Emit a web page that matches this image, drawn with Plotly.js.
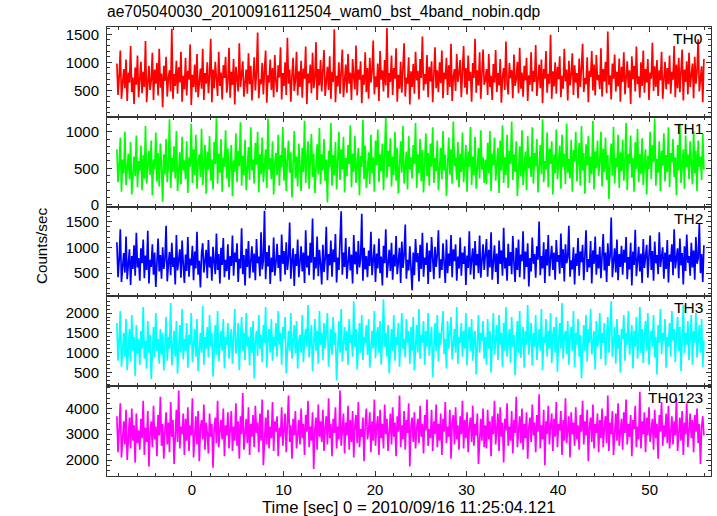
<!DOCTYPE html>
<html><head><meta charset="utf-8">
<script src="https://cdn.plot.ly/plotly-3.0.1.min.js"></script>
<style>html,body{margin:0;padding:0;background:#fff}</style>
</head><body><div id="chart" style="width:717px;height:516px"></div>
<script>
// Time axis: bins start at t0 with width dt (seconds)
const t0 = -8.2;
const dt = 0.125;
const panelNames = ["TH0", "TH1", "TH2", "TH3", "TH0123"];
const chartTitle = "ae705040030_20100916112504_wam0_bst_4band_nobin.qdp";
const xTitle = "Time [sec] 0 = 2010/09/16 11:25:04.121";
const yTitle = "Counts/sec";

const th0 = [980,420,760,1210,350,690,880,540,1050,310,820,640,1290,470,730,260,910,600,1120,380,
700,1010,450,830,560,1380,290,760,940,510,680,1170,330,870,620,990,410,1240,550,800,
200,940,670,1100,390,720,860,480,1600,350,790,580,1030,440,910,640,1190,300,760,520,
1080,410,850,690,1320,240,780,560,960,470,1150,380,700,890,530,1240,330,810,620,1000,
450,760,1420,290,870,540,1010,680,400,1190,580,820,340,950,720,1100,460,650,1260,370,
830,600,1060,250,920,710,480,1340,560,780,1020,390,690,870,440,1160,610,940,320,750,
1090,500,820,1530,360,700,610,990,430,860,1210,280,770,640,1050,510,900,380,1130,660,
470,950,730,1270,340,810,580,1000,420,1440,620,870,300,760,1080,490,680,1190,410,840,
560,1030,370,890,710,1280,260,800,630,960,450,1170,540,720,1360,330,880,590,1040,480,
780,1220,400,690,920,510,1110,350,830,650,1590,290,760,570,1000,440,880,1230,380,700,
960,460,1150,620,820,330,1060,740,520,1300,410,870,690,1020,270,780,600,1180,470,900,
350,1080,640,830,1390,430,750,560,980,310,1200,690,860,480,1040,590,1610,370,810,650,
1120,420,900,710,1250,300,780,530,1010,460,870,1340,390,730,620,1090,250,840,560,970,
440,1190,680,850,340,1060,720,1460,500,790,610,1130,380,920,660,1020,290,770,1270,540,
860,470,1000,630,1210,360,820,700,1080,420,950,560,1330,310,740,880,490,1150,650,810,
1040,380,760,1290,550,900,430,1120,670,830,300,990,720,1420,460,860,590,1180,350,780,
1230,600,
690,880,420,1150,560,760,330,970,640,1220,470,810,590,1060,280,740,900,510,1370,620,
430,990,720,860,360,1140,580,700,1010,450,1260,530,820,390,940,680,1080,310,770,600,
1180,480,850,650,1310,400,730,960,540,1050,270,880,710,1200,460,790,620,1490,350,840,
570,1000,440,920,700,1110,380,760,530,1240,660,870,320,1030,590,780,1160,420,950,640,
810,360,1070,560,900,1330,470,720,610,1090,290,850,740,1200,500,960,410,1130,680,780,
520,1250,390,880,660,1010,450,1550,600,770,340,980,710,1140,480,830,570,1070,300,920,
650,1180,430,790,1020,550,860,260,1110,700,940,480,1280,610,750,370,1000,580,1210,460,
880,640,1060,330,820,710,1350,490,930,560,1040,400,860,680,1190,350,770,1010,520,900,
610,1120,440,830,690,1290,380,960,540,1080,470,790,1230,320,870,650,1020,430,1170,560,
740,980,360,1100,620,850,1410,480,700,930,290,1060];

const th1 = [760,310,540,920,180,620,430,1000,270,580,700,350,860,140,510,660,390,950,240,600,
470,810,200,680,360,1080,290,560,740,410,880,130,620,480,990,320,710,250,840,530,
40,690,420,900,310,570,1170,230,640,450,800,360,1010,190,580,720,280,930,470,610,
350,870,160,650,520,1110,300,760,410,960,220,590,690,380,1040,270,540,820,150,730,
480,940,330,620,210,860,560,1190,290,700,440,900,180,650,520,1020,360,770,240,580,
820,120,610,450,980,310,740,530,1130,260,670,400,890,200,560,790,340,1060,470,620,
290,850,550,1000,170,690,420,920,310,600,760,230,1180,480,640,350,870,140,570,710,
410,960,260,680,510,1070,330,780,190,620,880,440,720,100,590,1010,360,660,250,840,
530,190,780,450,1150,300,640,870,220,560,970,380,700,160,610,830,420,1050,280,690,
470,900,330,620,30,740,510,1120,260,680,400,860,210,590,1000,340,760,480,930,170,
640,390,820,560,1090,240,700,450,940,300,610,780,130,670,520,1160,350,810,230,590,
720,280,960,430,650,180,880,540,1030,310,690,460,840,200,600,1190,370,740,520,910,
250,660,410,1000,330,780,150,620,870,440,1080,290,560,730,210,940,480,650,360,820,
560,1120,230,690,430,900,320,750,170,600,980,390,710,260,840,520,1060,300,640,460,
880,200,620,780,350,1010,470,690,120,570,920,410,760,290,1140,530,650,340,860,240,
700,450,990,310,610,820,180,730,520,1070,270,660,400,930,220,590,780,360,1020,480,
650,300,
620,280,850,430,1010,190,700,540,920,330,610,780,160,880,470,1090,300,650,410,960,
230,740,560,1140,340,690,450,870,120,620,800,390,1020,270,580,730,200,940,500,660,
380,1060,290,710,530,900,170,640,820,420,1170,310,600,480,990,240,770,560,870,140,
690,430,1030,350,580,810,220,960,510,700,280,1110,440,630,360,890,180,750,590,1000,
320,620,850,260,1080,470,710,150,830,540,940,300,660,420,1150,210,730,500,880,390,
600,1000,250,770,450,920,340,680,80,590,840,400,1070,290,640,510,960,230,720,460,
890,330,610,1120,200,700,560,950,370,640,180,860,490,1040,310,690,420,910,270,580,
760,140,670,490,1000,350,820,590,1180,260,630,440,870,190,740,530,980,320,680,450,
1060,240,710,580,900,380,650,130,820,470,1110,300,620,760,220,950,510,690,350,870,
560,280,1010,430,740,190,880,520,660,340,970,480];

const th2 = [1100,420,760,1350,330,650,890,510,1210,380,720,960,270,830,580,1040,450,1280,610,790,
350,980,690,1150,400,840,560,1320,300,760,620,1060,470,900,230,710,1170,530,850,390,
1000,580,770,1420,340,690,910,460,1090,620,800,280,1240,550,720,960,410,1130,670,310,
860,540,1200,430,780,650,1030,360,920,590,1300,470,740,220,880,1080,510,690,950,400,
1140,610,820,350,1010,720,480,1270,560,870,300,990,660,1180,420,760,540,1060,370,830,
640,1230,450,900,710,1080,330,780,590,1370,480,850,260,970,620,1120,400,730,1020,510,
880,360,1160,690,820,440,1290,570,750,1710,380,910,630,1040,290,800,520,1190,450,700,
1070,600,850,340,1250,680,930,470,1100,560,790,1480,390,720,980,250,870,640,1150,420,
760,1020,530,900,310,1330,610,840,460,1090,700,1560,370,810,590,1210,440,950,680,280,
1050,520,780,1400,360,870,650,1130,430,960,710,1260,320,800,560,1080,1700,470,900,620,
1180,390,740,1010,550,860,300,1240,670,920,480,1120,610,780,1650,350,990,570,830,420,
940,640,1300,460,750,1060,330,880,590,1170,500,820,260,1030,690,1350,410,770,950,540,
1090,370,860,630,1220,480,730,990,310,1110,600,840,1440,390,760,550,1020,680,170,900,
460,1160,710,890,340,1050,580,1280,430,800,660,1090,290,940,520,1200,740,380,1010,620,
850,1330,400,770,560,1080,690,310,1150,500,880,640,1240,420,960,730,1060,350,820,590,
1190,450,900,680,1020,270,840,600,1310,470,760,980,380,1120,650,870,500,1230,410,790,
1060,560,
820,1160,430,950,610,1290,370,760,1040,520,880,290,1130,680,940,450,1380,590,800,350,
1070,640,910,480,1220,700,330,990,560,1150,420,860,730,1310,380,920,620,1080,240,790,
530,1190,680,870,410,1020,760,1500,460,830,590,1100,310,960,650,1240,440,780,1030,560,
900,370,1140,720,850,490,1270,600,960,340,1060,690,810,1420,430,750,570,1000,280,880,
640,1180,450,920,710,1050,360,830,1330,520,770,610,1120,300,940,680,1210,470,860,590,
1010,400,780,1260,550,900,330,1080,640,820,1580,420,730,980,510,1150,360,870,620,1030,
470,950,700,1200,380,810,570,1090,260,920,660,1340,440,790,1010,530,880,310,1160,600,
840,1050,410,740,1230,560,930,350,1110,690,850,480,1290,620,770,1000,390,900,580,1140,
320,860,720,1060,460,1350,590,800,980,400,1170,650,890,280,1020,540,1250,700,830,450,
1090,610,940,370,1200,680,790,1460,500,870,330,1040];

const th3 = [1750,800,1300,2050,650,1150,1500,900,1850,560,1250,1600,780,1950,1050,1400,420,1700,980,1350,
700,1550,1100,2150,850,1300,600,1800,1000,1450,330,1200,1650,880,2000,1050,1350,720,1600,950,
1500,550,1250,1900,800,1400,1100,2250,680,1300,1550,900,1800,470,1150,1700,1000,2100,830,1350,
1050,1750,620,1450,1200,2000,760,1300,1600,900,1850,540,1250,1500,1000,2180,700,1400,1100,1650,
880,1950,1150,1500,400,1350,1700,950,2050,780,1250,1550,1050,1850,600,1400,1200,1750,850,1300,
1600,720,1450,2100,980,1200,1750,560,1350,1900,1050,1500,820,2000,1150,1400,680,1650,1000,1800,
350,1300,1550,920,1950,1100,1450,760,1700,1250,2150,630,1350,1600,1000,1850,800,1400,1150,1750,
900,2050,1200,1500,700,1650,1350,1900,480,1250,1550,1050,2000,850,1400,1700,980,1800,600,1300,
1450,1000,1950,760,1350,1600,1150,2200,880,1400,1700,540,1300,1850,1050,1550,720,2050,1200,1500,
820,1750,1100,1450,2000,650,1350,1600,950,1900,1200,1500,300,1400,1800,1000,2100,780,1300,1650,
1050,1550,700,1850,1250,1450,900,2300,1150,1600,580,1350,1750,1000,1950,820,1400,1250,1700,950,
1850,620,1300,1550,1100,2050,860,1450,1650,1000,1800,700,1350,2350,1150,1500,900,1700,480,1250,
1600,1050,1950,800,1400,1200,1750,650,1500,2000,1100,1350,880,1850,1250,1550,720,1650,1050,1900,
550,1300,1700,1000,2100,850,1450,1250,1800,700,1550,1150,2000,920,1400,1650,380,1350,1750,1050,
1950,780,1500,1200,1650,2050,960,1350,600,1800,1100,1450,1900,830,1300,1600,1000,2150,720,1400,
1250,1750,900,1550,1100,2000,680,1400,1650,1050,1850,800,1350,1550,450,1250,1950,1000,1500,1300,
1800,850,
1400,700,1850,1100,1550,500,1300,2000,950,1450,1700,820,1950,1200,1500,650,1750,1050,2150,900,
1350,1600,750,1900,1150,1450,430,1250,1800,1000,2050,870,1400,1650,620,1550,1200,2200,950,1300,
1750,680,1500,1150,1950,820,1350,1600,1050,2100,560,1400,1250,1850,900,1550,1100,2000,740,1450,
1650,1000,1900,520,1300,1750,1100,2250,850,1400,1550,960,1800,700,1350,1650,1050,2050,640,1500,
1200,1850,900,1450,360,1300,1700,1050,1950,780,1600,1250,2100,960,1400,1550,580,1800,1150,1350,
2000,840,1500,1250,1750,680,1400,1900,1000,1550,2300,900,1300,1650,720,1850,1100,1450,500,1600,
1350,1950,800,1500,1200,2050,950,1400,1700,600,1550,1150,1900,850,1300,2150,1000,1600,740,1450,
1800,1050,2000,700,1350,1550,1150,1950,880,1400,450,1700,1250,2100,960,1500,1300,1850,620,1400,
1150,1750,900,2050,1300,1600,760,1450,1900,1050,1650,540,1350,2200,980,1500,1200,1800,820,1400,
1950,700,1550,1250,2000,880,1450,1700,1000,1850,640,1300];

const th0123 = [3700,2300,3200,4200,2100,2900,3500,2600,3950,2000,3100,3650,2450,4000,2750,3350,1900,3800,2650,3150,
2400,3600,2850,4300,2200,3250,2700,3900,1750,3050,3500,2500,4100,2800,3300,2150,3750,2950,4450,2550,
3400,2050,3150,3850,2600,3450,2300,4250,2900,3550,1850,3200,3950,2700,4700,2450,3300,3000,3800,2200,
3600,2750,4050,2350,3350,2950,4400,2100,3150,3700,2600,3900,1950,3250,3550,2800,4150,2400,3450,3050,
2250,3800,2900,3400,1700,3200,3650,2650,4300,2500,3100,3550,2800,4000,2150,3350,2950,3850,2450,3250,
3900,2350,3300,2750,4200,2550,3500,2050,3700,3000,4600,2400,3200,3600,2650,4050,2200,3400,2900,3750,
2500,4100,3050,3450,2300,3800,2750,4350,1800,3150,3650,2600,3950,2450,3300,2850,4250,2350,3500,3100,
3700,2150,3250,2900,4050,2550,3450,3800,2300,3150,4500,2700,3350,2050,3600,2950,3900,2450,3200,3550,
2600,4000,2850,3400,2200,3750,3100,4300,2500,3300,2750,3850,1650,3200,3650,2400,4150,2900,3500,2700,
3950,2350,3250,3700,2600,4400,2850,3400,2150,3600,3050,4050,2450,3300,2800,4700,2550,3150,3800,2250,
3450,2950,4100,2400,3550,2700,3900,2100,3350,3750,2650,4250,2500,3200,2900,3650,1950,3400,4000,2800,
3150,3850,2300,3500,2750,4350,2550,3300,3700,2200,3950,2850,3400,2450,4150,3000,3600,2350,3250,3800,
2600,4050,2900,3450,2150,3700,3100,4500,2500,3350,2800,3900,2400,3550,3050,4200,1750,3300,3650,2700,
3850,2450,3250,3600,2650,4100,2900,3400,2250,3750,3150,4350,2550,3200,2850,3950,2350,3500,3000,4150,
2500,3400,2750,3800,2200,3600,3100,4250,2650,3300,2900,3950,2050,3450,3750,2600,4050,2800,3350,2400,
3700,3000,4300,2450,3550,2850,3850,2300,3250,3650,2700,4100,2550,3400,2950,3800,1850,3150,3600,2750,
4000,2500,
3350,2450,3950,2800,3500,2150,3700,3000,4300,2600,3250,3800,2350,4050,2900,3450,1900,3600,3150,4200,
2550,3300,2750,3900,2250,3550,3050,4450,2500,3200,3700,2650,4000,2400,3400,2850,3850,2050,3250,3650,
2700,4150,2950,3450,2300,3750,3100,4550,2450,3350,2800,3950,1800,3500,3000,4100,2600,3300,3800,2350,
3600,2900,4250,2500,3400,3150,3900,2200,3550,2750,4400,2650,3250,3700,2100,3850,3000,3450,2550,4050,
2800,3350,2400,3750,3100,4300,2600,3500,2950,3950,1950,3300,3650,2700,4150,2450,3400,3050,3800,2300,
3550,2850,4000,2500,3250,3700,2650,4500,2350,3450,3000,3900,2200,3350,3800,2750,4200,2550,3150,3600,
2400,3850,3050,4350,2600,3400,2900,3750,2150,3550,3200,4100,2500,3300,2800,4650,2450,3500,3000,3850,
2300,3650,2950,4050,2700,3250,3600,2400,3950,2850,3400,2050,3750,3100,4250,2550,3350,2900,3800,2650,
4100,2450,3300,3700,2600,3500,2950,4400,2350,3200,3650,2750,3900,2200,3450,3000,4200,2500,3350,3800,
2850,3550,2300,3750,3100,4000,2650,3400,1850,3250,3700,2950];

const seriesValues = [th0, th1, th2, th3, th0123];
const seriesColors = ["#ff0000", "#00ff00", "#0000ff", "#00ffff", "#ff00ff"];

// axis settings (ranges / tick steps)
const xRange = [-9.28, 56.7];
const yRanges = [[30, 1630], [-25, 1205], [48, 1790], [156, 2420], [1380, 4864]];
const yDticks = [500, 500, 500, 500, 1000];
const yMinor = [100, 100, 100, 100, 200];

const time = th0.map((_, i) => +(t0 + i * dt).toFixed(3));

const font = "Liberation Sans, Arial, Helvetica, sans-serif";
const axisCol = "#333";
const traces = [];
const layout = {
  width: 717, height: 516,
  margin: {l: 107, r: 6, t: 27, b: 40},
  paper_bgcolor: "#fff", plot_bgcolor: "#fff",
  showlegend: false,
  font: {family: font, size: 15, color: "#000"},
  title: {text: chartTitle, x: 107/717, xanchor: "left", xref: "container",
          y: 1 - 12/516, yanchor: "middle", font: {family: font, size: 15.6, color: "#000"}},
  annotations: [],
};
const n = panelNames.length;
for (let i = 0; i < n; i++) {
  const sfx = i === 0 ? "" : String(i + 1);
  traces.push({
    x: time, y: seriesValues[i], type: "scatter", mode: "lines",
    xaxis: "x" + sfx, yaxis: "y" + sfx,
    line: {color: seriesColors[i], width: 1.7},
    hoverinfo: "skip"
  });
  const top = 1 - i / n, bot = 1 - (i + 1) / n;
  layout["xaxis" + sfx] = {
    domain: [0, 1], range: xRange, anchor: "y" + sfx,
    showticklabels: i === n - 1,
    ticks: "inside", ticklen: 5, tickwidth: 1, tickcolor: axisCol,
    dtick: 10, tick0: 0,
    minor: {ticks: "inside", ticklen: 3, dtick: 2, tickcolor: axisCol, tickwidth: 1},
    showline: true, linecolor: axisCol, linewidth: 1, mirror: "ticks",
    showgrid: false, zeroline: false, fixedrange: true,
    ticklabelstandoff: 0,
    tickfont: {family: font, size: 15, color: "#000"}
  };
  layout["yaxis" + sfx] = {
    domain: [bot, top], range: yRanges[i], anchor: "x" + sfx,
    ticks: "inside", ticklen: 5, tickwidth: 1, tickcolor: axisCol,
    dtick: yDticks[i], tick0: 0,
    minor: {ticks: "inside", ticklen: 3, dtick: yMinor[i], tickcolor: axisCol, tickwidth: 1},
    showline: true, linecolor: axisCol, linewidth: 1, mirror: "ticks",
    showgrid: false, zeroline: false, fixedrange: true,
    ticklabelstandoff: 4,
    tickfont: {family: font, size: 15, color: "#000"}
  };
  layout.annotations.push({
    text: panelNames[i], xref: "paper", yref: "paper", x: 1, y: top,
    xanchor: "right", yanchor: "top", xshift: -6, yshift: -1,
    showarrow: false, font: {family: font, size: 15.5, color: "#000"}
  });
}
layout.annotations.push({
  text: yTitle, xref: "paper", yref: "paper", x: (41 - 107) / 604, y: (476 - 246) / 449,
  xanchor: "center", yanchor: "middle", textangle: -90, showarrow: false,
  font: {family: font, size: 15.2, color: "#000"}
});
layout.annotations.push({
  text: xTitle, xref: "paper", yref: "paper", x: (409 - 107) / 604, y: (476 - 507) / 449,
  xanchor: "center", yanchor: "middle", showarrow: false, borderpad: 0,
  font: {family: font, size: 16.7, color: "#000"}
});

Plotly.newPlot("chart", traces, layout, {displayModeBar: false, staticPlot: true});
</script></body></html>
